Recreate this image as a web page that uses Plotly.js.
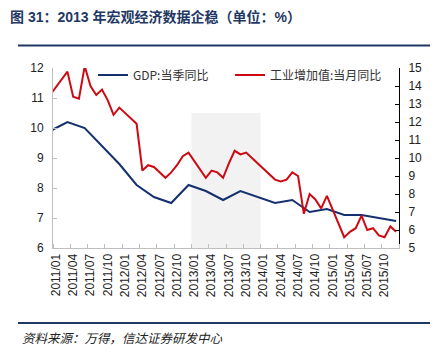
<!DOCTYPE html>
<html>
<head>
<meta charset="utf-8">
<script src="https://cdn.plot.ly/plotly-3.0.1.min.js"></script>
<style>
  html, body { margin: 0; padding: 0; background: #ffffff; }
  #chart { width: 440px; height: 357px; }
</style>
</head>
<body>
<div id="chart"></div>
<script>
// ---- categories (monthly, category axis) ----
const months = [
  "2010/12",
  "2011/01","2011/02","2011/03","2011/04","2011/05","2011/06","2011/07","2011/08","2011/09","2011/10","2011/11","2011/12",
  "2012/01","2012/02","2012/03","2012/04","2012/05","2012/06","2012/07","2012/08","2012/09","2012/10","2012/11","2012/12",
  "2013/01","2013/02","2013/03","2013/04","2013/05","2013/06","2013/07","2013/08","2013/09","2013/10","2013/11","2013/12",
  "2014/01","2014/02","2014/03","2014/04","2014/05","2014/06","2014/07","2014/08","2014/09","2014/10","2014/11","2014/12",
  "2015/01","2015/02","2015/03","2015/04","2015/05","2015/06","2015/07","2015/08","2015/09","2015/10","2015/11","2015/12"
];
const firstVisible = "2011/01";
const lastVisible = "2015/12";

// ---- tick labels ----
const tickLabels = [
  "2011/01","2011/04","2011/07","2011/10",
  "2012/01","2012/04","2012/07","2012/10",
  "2013/01","2013/04","2013/07","2013/10",
  "2014/01","2014/04","2014/07","2014/10",
  "2015/01","2015/04","2015/07","2015/10"
];

// ---- GDP: quarterly YoY (left axis) ----
const gdpMonths = [
  "2010/12",
  "2011/03","2011/06","2011/09","2011/12",
  "2012/03","2012/06","2012/09","2012/12",
  "2013/03","2013/06","2013/09","2013/12",
  "2014/03","2014/06","2014/09","2014/12",
  "2015/03","2015/06","2015/09","2015/12"
];
const gdpValues = [
  9.9,
  10.2, 10.0, 9.4, 8.8,
  8.1, 7.7, 7.5, 8.1,
  7.9, 7.6, 7.9, 7.7,
  7.5, 7.6, 7.2, 7.3,
  7.1, 7.1, 7.0, 6.9
];

// ---- Industrial value added: monthly YoY (right axis) ----
const ipMonths = [
  "2010/12",
  "2011/03","2011/04","2011/05","2011/06","2011/07","2011/08","2011/09","2011/10","2011/11","2011/12",
  "2012/03","2012/04","2012/05","2012/06","2012/07","2012/08","2012/09","2012/10","2012/11","2012/12",
  "2013/03","2013/04","2013/05","2013/06","2013/07","2013/08","2013/09","2013/10","2013/11","2013/12",
  "2014/03","2014/04","2014/05","2014/06","2014/07","2014/08","2014/09","2014/10","2014/11","2014/12",
  "2015/03","2015/04","2015/05","2015/06","2015/07","2015/08","2015/09","2015/10","2015/11","2015/12"
];
const ipValues = [
  13.5,
  14.8, 13.4, 13.3, 15.1, 14.0, 13.5, 13.8, 13.2, 12.4, 12.8,
  11.9, 9.3, 9.6, 9.5, 9.2, 8.9, 9.2, 9.6, 10.1, 10.3,
  8.9, 9.3, 9.2, 8.9, 9.7, 10.4, 10.2, 10.3, 10.0, 9.7,
  8.8, 8.7, 8.8, 9.2, 9.0, 6.9, 8.0, 7.7, 7.2, 7.9,
  5.6, 5.9, 6.1, 6.8, 6.0, 6.1, 5.7, 5.6, 6.2, 5.9
];

// ---- highlighted period ----
const shadeFrom = "2013/01";
const shadeTo = "2013/12";
const shadeTop = 10.5;

const seriesNames = ["GDP:当季同比", "工业增加值:当月同比"];
const titleText = "图 31：2013 年宏观经济数据企稳（单位：%）";
const sourceText = "资料来源：万得，信达证券研发中心";

const idx = m => months.indexOf(m);

const navy = "#14306e";
const red = "#cc0a14";
const gray = "#bfbfbf";
const latin = "Liberation Sans, Arial, Noto Sans CJK SC, sans-serif";
const cjk = "Noto Sans CJK SC, Liberation Sans, sans-serif";

const data = [
  {
    x: gdpMonths.map(idx), y: gdpValues, name: seriesNames[0],
    type: "scatter", mode: "lines", yaxis: "y",
    line: { color: navy, width: 2 }, hoverinfo: "skip",
    legendwidth: 92
  },
  {
    x: ipMonths.map(idx), y: ipValues, name: seriesNames[1],
    type: "scatter", mode: "lines", yaxis: "y2",
    line: { color: red, width: 2 }, hoverinfo: "skip",
    legendwidth: 130
  }
];

const xRange = [idx(firstVisible) - 0.5, idx(lastVisible) + 0.5];

const layout = {
  width: 440, height: 357,
  margin: { l: 53, r: 41, t: 68, b: 109 },
  paper_bgcolor: "#ffffff", plot_bgcolor: "rgba(0,0,0,0)",
  showlegend: true,
  title: {
    text: titleText,
    font: { family: latin, size: 14, color: "#1f3864", weight: "bold" },
    xref: "container", x: 10 / 440, xanchor: "left",
    yref: "container", y: 1 - 17 / 357, yanchor: "middle"
  },
  xaxis: {
    range: xRange,
    tickmode: "array",
    tickvals: tickLabels.map(idx),
    ticktext: tickLabels,
    tickangle: -90,
    ticks: "",
    minor: { tickmode: "linear", tick0: idx(firstVisible) - 0.5, dtick: 3, ticks: "inside", ticklen: 4, tickcolor: gray, tickwidth: 1, showgrid: false },
    showline: true, linecolor: gray, linewidth: 1,
    showgrid: false, zeroline: false,
    tickfont: { family: latin, size: 12, color: "#222" },
    fixedrange: true
  },
  yaxis: {
    range: [6, 12], tickmode: "linear", tick0: 6, dtick: 1,
    ticks: "inside", ticklen: 4, tickcolor: gray, tickwidth: 1,
    showline: true, linecolor: gray, linewidth: 1,
    showgrid: false, zeroline: false,
    ticklabelstandoff: 6,
    tickfont: { family: latin, size: 12, color: "#222" },
    fixedrange: true
  },
  yaxis2: {
    range: [5, 15], tickmode: "linear", tick0: 5, dtick: 1,
    overlaying: "y", side: "right",
    ticks: "inside", ticklen: 4, tickcolor: "#000", tickwidth: 1,
    showline: true, linecolor: "#000", linewidth: 1,
    showgrid: false, zeroline: false,
    ticklabelstandoff: 6,
    tickfont: { family: latin, size: 12, color: "#222" },
    fixedrange: true
  },
  legend: {
    orientation: "h",
    x: 40 / 346, xanchor: "left",
    y: (248 - 75) / 180, yanchor: "middle",
    bgcolor: "rgba(0,0,0,0)",
    font: { family: cjk, size: 12, color: "#333" },
    traceorder: "normal"
  },
  shapes: [
    {
      type: "rect", layer: "below", xref: "x", yref: "y",
      x0: idx(shadeFrom) - 0.5, x1: idx(shadeTo) + 0.5, y0: 6, y1: shadeTop,
      fillcolor: "#f2f2f2", line: { width: 0 }
    },
    {
      type: "line", xref: "paper", yref: "paper",
      x0: (18 - 53) / 346, x1: (430 - 53) / 346, y0: (248 - 45.5) / 180, y1: (248 - 45.5) / 180,
      line: { color: "#1f3864", width: 2 }
    },
    {
      type: "line", xref: "paper", yref: "paper",
      x0: (18 - 53) / 346, x1: (430 - 53) / 346, y0: (248 - 323) / 180, y1: (248 - 323) / 180,
      line: { color: "#1f3864", width: 2 }
    }
  ],
  annotations: [
    {
      text: "<i>" + sourceText + "</i>",
      xref: "paper", yref: "paper",
      x: (20 - 53) / 346, xanchor: "left",
      y: (248 - 337) / 180, yanchor: "middle",
      showarrow: false,
      font: { family: cjk, size: 12.5, color: "#222" }
    }
  ]
};

Plotly.newPlot("chart", data, layout, { displayModeBar: false, staticPlot: true });
</script>
</body>
</html>
